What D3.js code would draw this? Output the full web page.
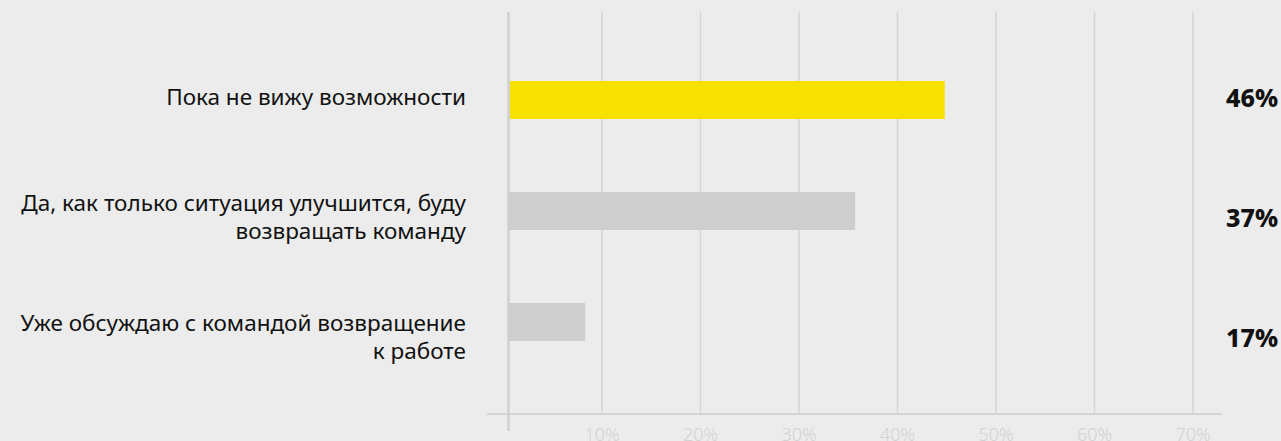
<!DOCTYPE html>
<html>
<head>
<meta charset="utf-8">
<script src="https://cdn.jsdelivr.net/npm/d3@7"></script>
<style>
  html, body { margin: 0; padding: 0; background: #ebeceb; }
  svg { display: block; }
  text { font-family: "Noto Sans", "Open Sans", sans-serif; }
</style>
</head>
<body>
<script>
// DATA
var categories = [
  'Пока не вижу возможности',
  'Да, как только ситуация улучшится, буду\nвозвращать команду',
  'Уже обсуждаю с командой возвращение\nк работе'
];
var barValues = [44.8, 35.7, 8.3];
var valueLabels = ['46%', '37%', '17%'];
var highlight = [true, false, false];
var tickValues = [10, 20, 30, 40, 50, 60, 70];

var width = 1281, height = 441;

var svg = d3.select('body').append('svg')
  .attr('width', width)
  .attr('height', height);

svg.append('rect')
  .attr('width', width)
  .attr('height', height)
  .attr('fill', '#ebeceb');

// scales
var x = d3.scaleLinear().domain([0, 70]).range([503.5, 1193]);
var y = d3.scaleBand().domain(categories).range([44.5, 377.5]).paddingInner(0.658).paddingOuter(0.329);
// text rows (labels and values sit on their own rhythm)
var yRow = d3.scalePoint().domain(categories).range([98, 338]);

// gridlines
svg.append('g')
  .selectAll('line')
  .data(tickValues)
  .join('line')
  .attr('x1', function (d) { return x(d); })
  .attr('x2', function (d) { return x(d); })
  .attr('y1', 12)
  .attr('y2', 414)
  .attr('stroke', '#d5d5d5')
  .attr('stroke-width', 1.5);

// bottom baseline
svg.append('line')
  .attr('x1', 487).attr('x2', 1222)
  .attr('y1', 414).attr('y2', 414)
  .attr('stroke', '#d3d3d3')
  .attr('stroke-width', 2);

// zero axis
svg.append('line')
  .attr('x1', 508.5).attr('x2', 508.5)
  .attr('y1', 12).attr('y2', 431)
  .attr('stroke', '#d0d0d0')
  .attr('stroke-width', 2.5);

// tick labels
svg.append('g')
  .selectAll('text')
  .data(tickValues)
  .join('text')
  .attr('x', function (d) { return x(d); })
  .attr('y', 440.5)
  .attr('text-anchor', 'middle')
  .attr('fill', '#d2d3d2')
  .style('font-size', '18px')
  .style('font-weight', 300)
  .text(function (d) { return d + '%'; });

// bars
svg.append('g')
  .selectAll('rect')
  .data(categories)
  .join('rect')
  .attr('x', function (d, i) { return highlight[i] ? 510 : 508; })
  .attr('y', function (d) { return y(d); })
  .attr('width', function (d, i) { return x(barValues[i]) - (highlight[i] ? 510 : 508); })
  .attr('height', y.bandwidth())
  .attr('fill', function (d, i) { return highlight[i] ? '#f7e100' : '#cecece'; });

// category labels
var lineH = 27.5;
var catText = svg.append('g')
  .selectAll('text')
  .data(categories)
  .join('text')
  .attr('text-anchor', 'end')
  .attr('fill', '#111')
  .style('font-size', '22.5px');

catText.each(function (d) {
  var lines = d.split('\n');
  var first = yRow(d) + 7 - (lines.length - 1) * lineH / 2;
  d3.select(this).selectAll('tspan')
    .data(lines)
    .join('tspan')
    .attr('x', 466)
    .attr('y', function (l, j) { return first + j * lineH; })
    .text(function (l) { return l; });
});

// value labels
svg.append('g')
  .selectAll('text')
  .data(categories)
  .join('text')
  .attr('x', 1278)
  .attr('y', function (d) { return yRow(d) + 8.7; })
  .attr('text-anchor', 'end')
  .attr('fill', '#111')
  .style('font-size', '25px')
  .style('font-weight', 800)
  .text(function (d, i) { return valueLabels[i]; });
</script>
</body>
</html>
